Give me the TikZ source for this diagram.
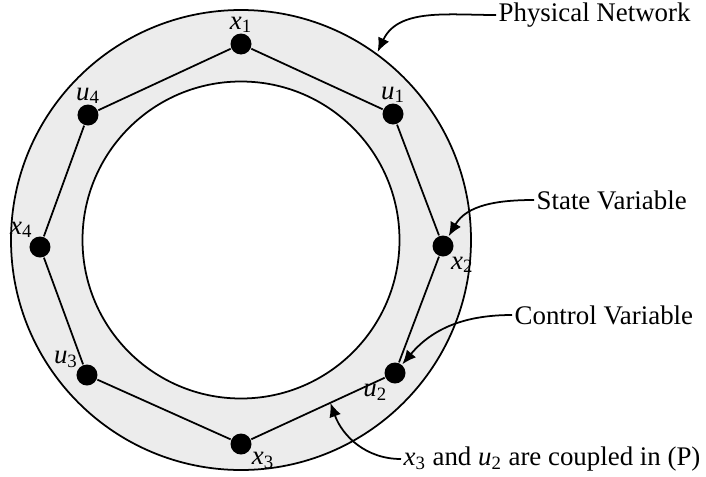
\documentclass[tikz,border=0pt]{standalone}
\usepackage{fontspec}
\setmainfont{Liberation Serif}
\usetikzlibrary{arrows.meta,calc}
\newcommand{\var}[2]{\textit{#1}\textsubscript{#2}}

\begin{document}
\begin{tikzpicture}[>={Latex[length=0.28cm,width=0.24cm]}, line width=1pt, font=\fontsize{15.3}{18}\selectfont,
	dot/.style={circle, fill=black, inner sep=0pt, minimum size=0.42cm},
	tag/.style={anchor=west, inner sep=1pt}]
			\useasboundingbox (-4.82,-4.72) rectangle (9.3,4.8);
			% the ring of the network
			\fill[gray!15, even odd rule] (0,0) circle (4.6) (0,0) circle (3.17);
			\draw (0,0) circle (4.6);
			\draw (0,0) circle (3.17);
			% variables
			\node[dot, label={[label distance=-4pt]above:\var{x}{1}}] (x1) at (0,3.92) {};
			\node[dot, label={[label distance=-4pt]above:\var{u}{1}}] (u1) at (3.04,2.52) {};
			\node[dot, label={[label distance=-4pt]-70:\var{x}{2}}] (x2) at (4.04,-0.12) {};
			\node[dot, label={[label distance=-4pt]-105:\var{u}{2}}] (u2) at (3.08,-2.66) {};
			\node[dot, label={[label distance=-4pt]-20:\var{x}{3}}] (x3) at (0,-4.08) {};
			\node[dot, label={[label distance=-5pt]165:\var{u}{3}}] (u3) at (-3.08,-2.7) {};
			\node[dot, label={[label distance=-5pt]112:\var{x}{4}}] (x4) at (-4.02,-0.14) {};
			\node[dot, label={[label distance=-4pt]above:\var{u}{4}}] (u4) at (-3.06,2.5) {};
			\draw (x1) -- (u1) -- (x2) -- (u2) -- (x3) -- (u3) -- (x4) -- (u4) -- (x1);
			% annotations
			\coordinate (rim) at (54:4.65);
			\coordinate (link) at ($(x3)!0.58!(u2)$);
			\node[tag] (pn) at (5.1,4.5) {Physical Network};
			\node[tag] (sv) at (5.86,0.8) {State Variable};
			\node[tag] (cv) at (5.42,-1.5) {Control Variable};
			\node[tag] (cp) at (3.2,-4.38) {\var{x}{3} and \var{u}{2} are coupled in (P)};
			\draw[->] (pn.west) to[out=180, in=65] (rim);
			\draw[->] (sv.west) to[out=180, in=60] (x2);
			\draw[->] (cv.west) to[out=180, in=50] (u2);
			\draw[->] (cp.west) to[out=180, in=-70] (link);
		\end{tikzpicture}
\end{document}
